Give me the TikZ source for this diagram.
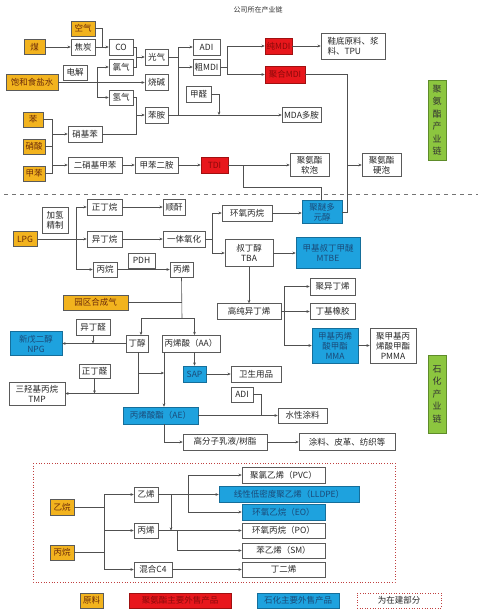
\documentclass[tikz,border=0pt]{standalone}
\usepackage{fontspec}
\setmainfont{Noto Sans CJK SC}
\usetikzlibrary{arrows.meta,calc}
\definecolor{borderc}{HTML}{5A5A5A}
\definecolor{linec}{HTML}{505050}
\definecolor{orgc}{HTML}{F2B31E}
\definecolor{orgt}{HTML}{6B2A0A}
\definecolor{redc}{HTML}{E8171C}
\definecolor{redd}{HTML}{A01010}
\definecolor{redt}{HTML}{8B0A0A}
\definecolor{bluc}{HTML}{1EA2DE}
\definecolor{blud}{HTML}{156E9A}
\definecolor{blut}{HTML}{1A4A78}
\definecolor{grnc}{HTML}{8CC63F}
\definecolor{grnd}{HTML}{5E8C2A}
\definecolor{dotc}{HTML}{C04040}
\tikzset{
  base/.style={draw=borderc, line width=0.6pt, inner sep=1pt, align=center,
    font=\fontsize{8.5}{10}\selectfont},
  bx/.style={base, fill=white, text=black!85},
  org/.style={base, fill=orgc, text=orgt},
  redb/.style={base, fill=redc, draw=redd, text=redt},
  blu/.style={base, fill=bluc, draw=blud, text=blut},
  grn/.style={base, fill=grnc, draw=grnd, text=black!80, font=\fontsize{9}{12.5}\selectfont},
  sz/.style 2 args={minimum width=#1, minimum height=#2},
  ln/.style={draw=linec, line width=0.6pt},
  arr/.style={ln, -{Stealth[length=3.2pt,width=2.8pt]}},
}
\begin{document}
\begin{tikzpicture}[x=1pt,y=-1pt]
\useasboundingbox (0,0) rectangle (484,610);
\fill[white] (0,0) rectangle (484,610);

% title
\node[font=\fontsize{7}{8}\selectfont, text=black!80] (title) at (258,10) {公司所在产业链};

% ===== top section =====
\node[org,sz={24}{15}] (air) at (83,28.5) {空气};
\node[org,sz={21}{15}] (coal) at (34.5,47) {煤};
\node[bx,sz={24}{16}] (coke) at (83,47) {焦炭};
\node[bx,sz={24}{16}] (co) at (121,47) {CO};
\node[bx,sz={24}{15}] (elec) at (75,72.5) {电解};
\node[org,sz={52}{16}] (brine) at (32,82.5) {饱和食盐水};
\node[bx,sz={24}{16}] (cl2) at (121,67) {氯气};
\node[bx,sz={24}{15}] (h2) at (121,97.5) {氢气};
\node[bx,sz={23}{16}] (phos) at (156.5,57) {光气};
\node[bx,sz={23}{16}] (naoh) at (156.5,82.5) {烧碱};
\node[bx,sz={27}{16}] (adi1) at (206.5,47) {ADI};
\node[bx,sz={27}{16}] (cmdi) at (206.5,67) {粗MDI};
\node[bx,sz={25}{16}] (hcho) at (198.5,94) {甲醛};
\node[redb,sz={27}{16}] (pmdi) at (278.5,46) {纯MDI};
\node[redb,sz={40}{17}] (polymdi) at (285,74.5) {聚合MDI};
\node[bx,sz={64}{26},align=left] (shoe) at (353,46) {鞋底原料、浆\\料、TPU};
\node[bx,sz={39}{15}] (mda) at (301.5,115) {MDA多胺};
\node[org,sz={20}{15}] (benz) at (33,119.5) {苯};
\node[org,sz={22}{15}] (hno3) at (34,146.5) {硝酸};
\node[org,sz={22}{15}] (tol) at (34,173.5) {甲苯};
\node[bx,sz={34}{16}] (nb) at (85,134) {硝基苯};
\node[bx,sz={23}{16}] (ani) at (156.5,115) {苯胺};
\node[bx,sz={54}{16}] (dnt) at (95,165) {二硝基甲苯};
\node[bx,sz={43}{16}] (tda) at (156.5,165) {甲苯二胺};
\node[redb,sz={27}{16}] (tdi) at (214.5,165) {TDI};
\node[bx,sz={39}{23}] (soft) at (309.5,165) {聚氨酯\\软泡};
\node[bx,sz={39}{23}] (hard) at (381.5,165) {聚氨酯\\硬泡};
\node[grn,sz={18}{80}] (pugreen) at (437,120) {聚\\氨\\酯\\产\\业\\链};

\coordinate (j1) at (102,47);
\coordinate (j2) at (97,82.5);
\coordinate (j3) at (136,57);
\coordinate (j4) at (178,57);
\coordinate (j5) at (178,115);
\coordinate (j6) at (219,115);
\coordinate (j7) at (227,67);
\coordinate (j8) at (347,165);
\coordinate (j9) at (243,165);
\coordinate (p1) at (321,187);
\coordinate (jA) at (52,119.5);
\coordinate (jB) at (52,173.5);
\coordinate (j11) at (136,115);

\draw[arr] (coal.east) -- (coke.west);
\draw[ln] (air.east) -| (j1);
\draw[arr] (coke.east) -- (co.west);
\draw[arr] (brine.east) -- (naoh.west);
\draw[arr] (j2) |- (cl2.west);
\draw[arr] (j2) |- (h2.west);
\draw[ln] (co.east) -| (j3);
\draw[ln] (cl2.east) -| (j3);
\draw[arr] (j3) -- (phos.west);
\draw[ln] (phos.east) -- (j4);
\draw[arr] (j4) |- (adi1.west);
\draw[arr] (j4) |- (cmdi.west);
\draw[arr] (ani.east) -- (mda.west);
\draw[ln] (j5) -- (j4);
\draw[arr] (hcho.east) -| (j6);
\draw[ln] (cmdi.east) -- (j7);
\draw[arr] (j7) |- (pmdi.west);
\draw[arr] (j7) |- (polymdi.west);
\draw[arr] (pmdi.east) -- (pmdi.east -| shoe.west);
\draw[ln] (polymdi.east) -| (j8);
\draw[arr] (j8) -- (hard.west);
\draw[ln] (benz.east) -- (jA) -- (jB) -- (tol.east);
\draw[ln] (hno3.east) -- (hno3.east -| jA);
\draw[arr] (jA |- nb.west) -- (nb.west);
\draw[arr] (jA |- dnt.west) -- (dnt.west);
\draw[arr] (dnt.east) -- (tda.west);
\draw[arr] (tda.east) -- (tdi.west);
\draw[arr] (tdi.east) -- (soft.west);
\draw[ln] (nb.east) -| (j11);
\draw[ln] (h2.east) -| (j11);
\draw[arr] (j11) -- (ani.west);

% separator
\coordinate (sepL) at (4,194);
\coordinate (sepR) at (478,194);
\draw[draw=black!55, line width=0.6pt, dash pattern=on 4pt off 4pt] (sepL) -- (sepR);

% ===== lower section =====
\node[bx,sz={26}{26}] (hydro) at (55,220) {加氢\\精制};
\node[org,sz={24}{15}] (lpg) at (25,239) {LPG};
\node[bx,sz={35}{16}] (nbut) at (104.5,207) {正丁烷};
\node[bx,sz={35}{16}] (ibut) at (104.5,239) {异丁烷};
\node[bx,sz={24}{15}] (prop) at (105,269.5) {丙烷};
\node[bx,sz={22}{16}] (ma) at (174,207) {顺酐};
\node[bx,sz={42}{16}] (oxid) at (184,239) {一体氧化};
\node[bx,sz={27}{15}] (pdh) at (141.5,260.5) {PDH};
\node[bx,sz={23}{15}] (propy) at (181.5,269.5) {丙烯};
\node[bx,sz={50}{16}] (po1) at (247,213) {环氧丙烷};
\node[blu,sz={40}{23}] (polyol) at (322,212) {聚醚多\\元醇};
\node[bx,sz={48}{27}] (tba) at (249,253) {叔丁醇\\TBA};
\node[blu,sz={64}{31}] (mtbe) at (328,253) {甲基叔丁甲醚\\MTBE};
\node[bx,sz={64}{16}] (hpib) at (249,311.5) {高纯异丁烯};
\node[bx,sz={45}{17}] (pib) at (332.5,286.5) {聚异丁烯};
\node[bx,sz={45}{16}] (iir) at (332.5,311.5) {丁基橡胶};
\node[blu,sz={46}{35}] (mma) at (335,345.5) {甲基丙烯\\酸甲酯\\MMA};
\node[bx,sz={46}{35}] (pmma) at (393,345.5) {聚甲基丙\\烯酸甲酯\\PMMA};
\node[grn,sz={18}{78}] (pcgreen) at (437,394) {石\\化\\产\\业\\链};
\node[org,sz={65}{15}] (syngas) at (95.5,302.5) {园区合成气};
\node[bx,sz={22}{17}] (buol) at (137,343.5) {丁醇};
\node[bx,sz={58}{17}] (aa) at (191,343.5) {丙烯酸（AA）};
\node[bx,sz={34}{16}] (iba) at (93,327) {异丁醛};
\node[blu,sz={52}{24}] (npg) at (36,343.5) {新戊二醇\\NPG};
\node[bx,sz={31}{14}] (nba) at (94.5,371) {正丁醛};
\node[bx,sz={56}{23}] (tmp) at (37,393.5) {三羟基丙烷\\TMP};
\node[blu,sz={23}{16}] (sap) at (194.5,374) {SAP};
\node[bx,sz={50}{16}] (hyg) at (256,374) {卫生用品};
\node[bx,sz={22}{15}] (adi2) at (242,394.5) {ADI};
\node[blu,sz={75}{17}] (ae) at (160.5,415.5) {丙烯酸酯（AE）};
\node[bx,sz={49}{15}] (wpaint) at (302.5,415.5) {水性涂料};
\node[bx,sz={84}{16}] (emul) at (225,442) {高分子乳液/树脂};
\node[bx,sz={96}{17}] (coat) at (347,442) {涂料、皮革、纺织等};

\coordinate (jL) at (76,239);
\coordinate (j12) at (212,239);
\coordinate (j13) at (284,311.5);
\coordinate (j14) at (182,318);
\coordinate (tB) at (141,335);
\coordinate (tA) at (194.5,335);
\coordinate (bB) at (138,352);
\coordinate (jBu) at (138,373);
\coordinate (jAE) at (164,373);
\coordinate (aaB) at (164,352);
\coordinate (jD) at (261,394.5);

\draw[ln] (polyol.north -| p1) -- (p1) -| (j9);
\draw[ln] (polyol.east) -| (j8);

\draw[arr] (lpg.east) -- (ibut.west);
\draw[arr] (jL) |- (nbut.west);
\draw[arr] (jL) |- (prop.west);
\draw[arr] (nbut.east) -- (ma.west);
\draw[arr] (ibut.east) -- (oxid.west);
\draw[arr] (prop.east) -- (propy.west);
\draw[ln] (oxid.east) -- (j12);
\draw[arr] (j12) |- (po1.west);
\draw[arr] (j12) |- (tba.west);
\draw[arr] (po1.east) -- (po1.east -| polyol.west);
\draw[arr] (tba.east) -- (mtbe.west);
\draw[arr] (tba.south) -- (hpib.north);
\draw[ln] (hpib.east) -- (j13);
\draw[arr] (j13) |- (pib.west);
\draw[arr] (j13) -- (iir.west);
\draw[arr] (j13) |- (mma.west);
\draw[arr] (mma.east) -- (pmma.west);

\draw[ln] (propy.south) -- (j14);
\draw[ln] (syngas.east) -- (syngas.east -| j14);
\draw[arr] (j14) -| (tB);
\draw[arr] (j14) -| (tA);
\draw[arr] (buol.west) -- (npg.east);
\draw[arr] (iba.south) -- (iba.south |- buol.west);
\draw[arr] (bB) |- (tmp.east);
\draw[arr] (nba.south) -- (nba.south |- tmp.east);
\draw[arr] (jBu) -- (jAE);
\draw[arr] (aaB) -- (aaB |- ae.north);
\draw[arr] (sap.north |- aa.south) -- (sap.north);
\draw[arr] (sap.east) -- (hyg.west);
\draw[ln] (adi2.east) -- (jD) -- (jD |- ae.east);
\draw[arr] (ae.east) -- (wpaint.west);
\draw[arr] (aaB |- ae.south) |- (emul.west);
\draw[arr] (emul.east) -- (coat.west);

% ===== under-construction box =====
\coordinate (dbA) at (33,463);
\coordinate (dbB) at (395,582);
\draw[draw=dotc, line width=0.7pt, dotted] (dbA) rectangle (dbB);

\node[org,sz={24}{16}] (ethane) at (62,507) {乙烷};
\node[org,sz={24}{15}] (propane2) at (62,552.5) {丙烷};
\node[bx,sz={24}{15}] (ethy) at (146,494.5) {乙烯};
\node[bx,sz={24}{15}] (propy2) at (146,530.5) {丙烯};
\node[bx,sz={38}{15}] (c4) at (153,569.5) {混合C4};
\node[bx,sz={83}{16}] (pvc) at (283.5,475) {聚氯乙烯（PVC）};
\node[blu,sz={140}{16}] (lldpe) at (289,494.5) {线性低密度聚乙烯（LLDPE）};
\node[blu,sz={83}{16}] (eo) at (283.5,512) {环氧乙烷（EO）};
\node[bx,sz={83}{15}] (po2) at (283.5,530.5) {环氧丙烷（PO）};
\node[bx,sz={83}{15}] (sm) at (283.5,550.5) {苯乙烯（SM）};
\node[bx,sz={83}{15}] (bd) at (283.5,569.5) {丁二烯};

\coordinate (jE1) at (104,494.5);
\coordinate (jE2) at (104,569.5);
\coordinate (jY) at (188,494.5);
\coordinate (jY2) at (171,494.5);
\coordinate (jS) at (177,530.5);

\draw[ln] (ethane.east) -- (ethane.east -| jE1);
\draw[ln] (propane2.east) -- (propane2.east -| jE1);
\draw[ln] (jE1) -- (jE2);
\draw[arr] (jE1) -- (ethy.west);
\draw[arr] (jE1 |- propy2.west) -- (propy2.west);
\draw[arr] (jE2) -- (c4.west);
\draw[ln] (ethy.east) -- (jY);
\draw[arr] (jY) |- (pvc.west);
\draw[arr] (jY) -- (lldpe.west);
\draw[arr] (jY) |- (eo.west);
\draw[arr] (jY2) -- (jY2 |- propy2.east);
\draw[arr] (propy2.east) -- (po2.west);
\draw[arr] (jS) |- (sm.west);
\draw[arr] (c4.east) -- (bd.west);

% ===== legend =====
\node[org,sz={23}{15}] (lg1) at (91.5,600.5) {原料};
\node[redb,sz={102}{15}] (lg2) at (180,600.5) {聚氨酯主要外售产品};
\node[blu,sz={82}{15}] (lg3) at (298,600.5) {石化主要外售产品};
\node[base,sz={84}{15},draw=dotc,dotted,line width=0.7pt,text=black!85] (lg4) at (399,600.5) {为在建部分};
\end{tikzpicture}
\end{document}
